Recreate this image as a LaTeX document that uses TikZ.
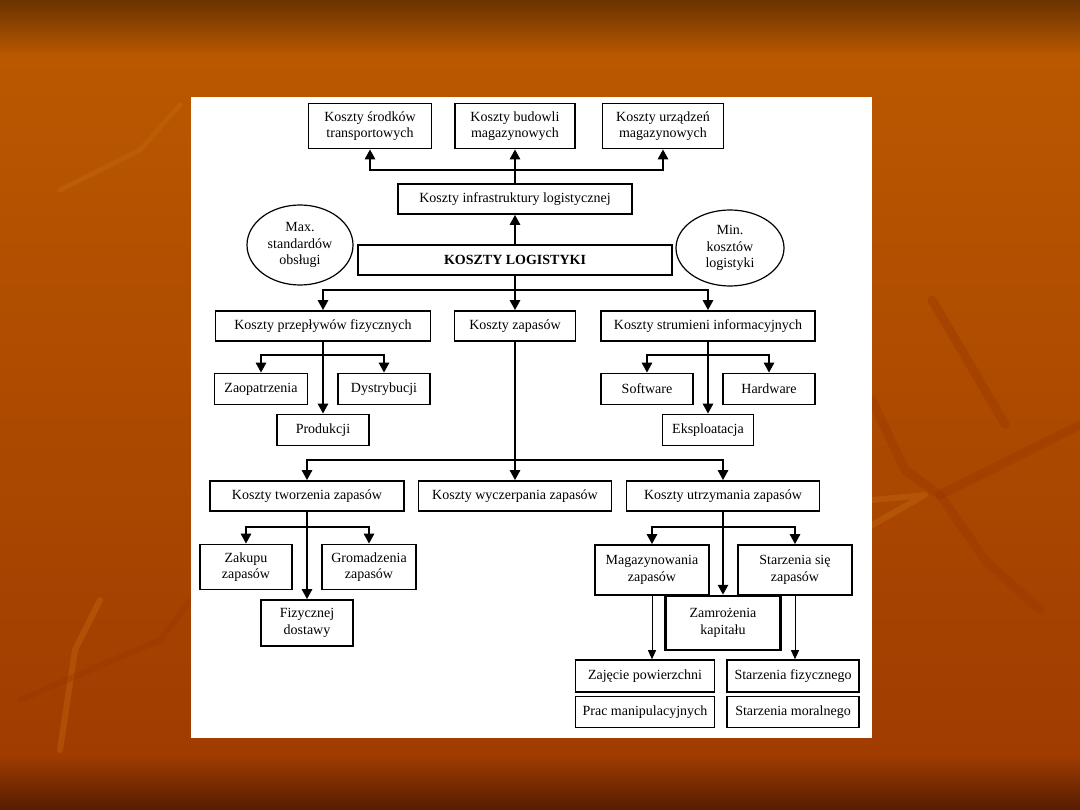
\documentclass[tikz,border=0pt]{standalone}
\usepackage{fontspec}
\setmainfont{Liberation Serif}
\usepackage{tikz}
\usepackage{xcolor}
\usetikzlibrary{shapes.geometric, arrows.meta}
\definecolor{bgdark}{HTML}{6A3300}
\definecolor{bgorange}{HTML}{BA5800}
\definecolor{bglow}{HTML}{A03C00}
\definecolor{bgbottom}{HTML}{561C00}
\definecolor{leafdark}{HTML}{9A3600}
\definecolor{leaflight}{HTML}{C46A10}
\tikzset{
  box/.style={
    draw, line width=1.6pt, fill=white,
    minimum height=30pt, inner sep=2pt,
    font=\fontsize{14}{16.5}\selectfont, align=center
  },
  oval/.style={
    draw, ellipse, line width=1.2pt, fill=white,
    inner sep=0pt, font=\fontsize{14}{16.5}\selectfont, align=center
  },
  link/.style={draw, line width=2.5pt},
  arr/.style={link, -{Triangle[length=10pt,width=10pt]}},
  thinarr/.style={draw, line width=1pt, -{Triangle[length=9pt,width=8pt]}},
  leafvein/.style={draw=leafdark, line width=9pt, line cap=round, line join=round, opacity=0.4},
}

\begin{document}
\begin{tikzpicture}[x=1pt, y=-1pt]

\useasboundingbox (0,0) rectangle (1080,810);
\shade[top color=bgdark, bottom color=bgorange] (0,0) rectangle (1080,56);
\shade[top color=bgorange, bottom color=bglow] (0,55) rectangle (1080,756);
\shade[top color=bglow, bottom color=bgbottom] (0,755) rectangle (1080,810);
\draw[leafvein] (932,300) -- (1005,424);
\draw[leafvein] (872,400) -- (905,470) -- (940,495) -- (1080,425);
\draw[leafvein] (940,495) -- (985,560) -- (1040,610);
\draw[leafvein, draw=leaflight, line width=6pt] (872,500) -- (925,495) -- (872,525);
\draw[leafvein, draw=leaflight, line width=6pt] (100,600) -- (75,650) -- (60,750);
\draw[leafvein, line width=6pt] (20,700) -- (160,640) -- (191,600);
\draw[leafvein, draw=leaflight, line width=5pt] (60,190) -- (140,150) -- (180,105);
\fill[white] (191,97) rectangle (872,738);

\node[box, minimum width=123pt, minimum height=45pt] (srodki) at (370,126) {Koszty środków\\transportowych};
\node[box, minimum width=120pt, minimum height=45pt] (budowle) at (515,126) {Koszty budowli\\magazynowych};
\node[box, minimum width=121pt, minimum height=45pt] (urzadzenia) at (663,126) {Koszty urządzeń\\magazynowych};
\node[box, minimum width=234pt] (infra) at (515,199) {Koszty infrastruktury logistycznej};
\node[oval, minimum width=106pt, minimum height=80pt] (maxobs) at (300,245) {Max.\\standardów\\obsługi};
\node[box, minimum width=314pt, font=\fontsize{14}{16}\selectfont\bfseries] (logist) at (515,260) {KOSZTY LOGISTYKI};
\node[oval, minimum width=108pt, minimum height=76pt] (minkoszt) at (730,248) {Min.\\kosztów\\logistyki};

\node[box, minimum width=215pt] (przeplyw) at (323,326) {Koszty przepływów fizycznych};
\node[box, minimum width=121pt] (zapasy) at (515,326) {Koszty zapasów};
\node[box, minimum width=214pt] (strumien) at (708,326) {Koszty strumieni informacyjnych};

\node[box, minimum width=93pt, minimum height=31pt] (zaopat) at (261,389) {Zaopatrzenia};
\node[box, minimum width=92pt, minimum height=31pt] (dystryb) at (384,389) {Dystrybucji};
\node[box, minimum width=92pt, minimum height=31pt] (produk) at (323,430) {Produkcji};
\node[box, minimum width=92pt, minimum height=31pt] (software) at (647,389) {Software};
\node[box, minimum width=92pt, minimum height=31pt] (hardware) at (769,389) {Hardware};
\node[box, minimum width=91pt, minimum height=31pt] (eksploat) at (708,430) {Eksploatacja};

\node[box, minimum width=194pt] (tworz) at (307,496) {Koszty tworzenia zapasów};
\node[box, minimum width=193pt] (wyczerp) at (515,496) {Koszty wyczerpania zapasów};
\node[box, minimum width=193pt] (utrzym) at (723,496) {Koszty utrzymania zapasów};

\node[box, minimum width=92pt, minimum height=45pt] (zakup) at (246,567) {Zakupu\\zapasów};
\node[box, minimum width=94pt, minimum height=45pt] (gromadz) at (369,567) {Gromadzenia\\zapasów};
\node[box, minimum width=92pt, minimum height=46pt] (fizdost) at (307,623) {Fizycznej\\dostawy};

\node[box, minimum width=114pt, minimum height=50pt] (magaz) at (652,570) {Magazynowania\\zapasów};
\node[box, minimum width=114pt, minimum height=50pt] (starz) at (795,570) {Starzenia się\\zapasów};
\node[box, line width=2.4pt, minimum width=115pt, minimum height=54pt] (zamroz) at (723,623) {Zamrożenia\\kapitału};
\node[box, minimum width=139pt, minimum height=32pt] (zajecie) at (645,676) {Zajęcie powierzchni};
\node[box, minimum width=139pt, minimum height=31pt] (prac) at (645,712) {Prac manipulacyjnych};
\node[box, minimum width=132pt, minimum height=32pt] (starzfiz) at (793,676) {Starzenia fizycznego};
\node[box, minimum width=132pt, minimum height=31pt] (starzmor) at (793,712) {Starzenia moralnego};

\coordinate (jtop) at (515,170);
\coordinate (jlog) at (515,290);
\coordinate (jprz) at (323,355);
\coordinate (jstr) at (708,355);
\coordinate (jzap) at (515,460);
\coordinate (jtw) at (307,527);
\coordinate (jutr) at (723,527);

\draw[arr] (infra.north) -- (budowle.south);
\draw[arr] (jtop) -| (srodki.south);
\draw[arr] (jtop) -| (urzadzenia.south);
\draw[arr] (logist.north) -- (infra.south);

\draw[link] (logist.south) -- (jlog);
\draw[arr] (jlog) -| (przeplyw.north);
\draw[arr] (jlog) -- (zapasy.north);
\draw[arr] (jlog) -| (strumien.north);

\draw[arr] (przeplyw.south) -- (produk.north);
\draw[arr] (jprz) -| (zaopat.north);
\draw[arr] (jprz) -| (dystryb.north);
\draw[arr] (strumien.south) -- (eksploat.north);
\draw[arr] (jstr) -| (software.north);
\draw[arr] (jstr) -| (hardware.north);

\draw[link] (zapasy.south) -- (jzap);
\draw[arr] (jzap) -| (tworz.north);
\draw[arr] (jzap) -- (wyczerp.north);
\draw[arr] (jzap) -| (utrzym.north);

\draw[arr] (tworz.south) -- (fizdost.north);
\draw[arr] (jtw) -| (zakup.north);
\draw[arr] (jtw) -| (gromadz.north);
\draw[arr] (utrzym.south) -- (zamroz.north);
\draw[arr] (jutr) -| (magaz.north);
\draw[arr] (jutr) -| (starz.north);

\draw[thinarr] (magaz.south) -- (magaz.south |- zajecie.north);
\draw[thinarr] (starz.south) -- (starz.south |- starzfiz.north);

\end{tikzpicture}
\end{document}
